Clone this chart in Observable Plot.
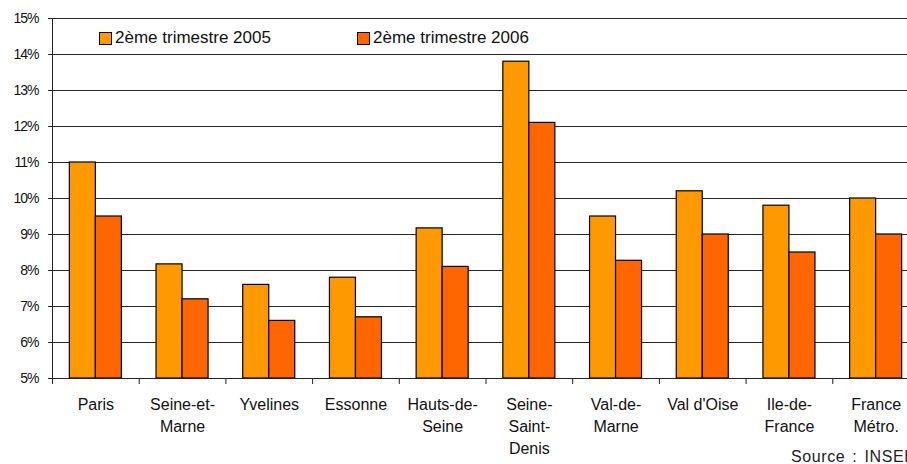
<!DOCTYPE html>
<html>
<head>
<meta charset="utf-8">
<script src="https://cdn.jsdelivr.net/npm/d3@7"></script>
<script src="https://cdn.jsdelivr.net/npm/@observablehq/plot@0.6"></script>
<style>
  html, body { margin: 0; padding: 0; background: #fff; overflow: hidden; }
  #wrap { position: relative; width: 907px; height: 464px; overflow: hidden; font-family: Arial, "Liberation Sans", sans-serif; }
  #chart svg { max-width: none !important; display: block; }
  #legend { position: absolute; top: 28px; left: 0; height: 20px; width: 907px; font-size: 17px; color: #111; }
  .item { position: absolute; display: flex; align-items: center; white-space: nowrap; }
  .sw { width: 11px; height: 11px; border: 1px solid #000; margin-right: 3px; }
  #source { position: absolute; left: 791px; top: 448px; font-size: 16px; color: #222; letter-spacing: 0.6px; word-spacing: 2px; white-space: nowrap; }
  g[aria-label="y-axis tick label"] text { letter-spacing: -1px; }
</style>
</head>
<body>
<div id="wrap">
  <div id="chart"></div>
  <div id="legend"></div>
  <div id="source"></div>
</div>
<script>
const categories = ["Paris", "Seine-et-Marne", "Yvelines", "Essonne", "Hauts-de-Seine", "Seine-Saint-Denis", "Val-de-Marne", "Val d'Oise", "Ile-de-France", "France Métro."];
const tickLabels = ["Paris", "Seine-et-\nMarne", "Yvelines", "Essonne", "Hauts-de-\nSeine", "Seine-\nSaint-\nDenis", "Val-de-\nMarne", "Val d'Oise", "Ile-de-\nFrance", "France\nMétro."];
const seriesNames = ["2ème trimestre 2005", "2ème trimestre 2006"];
const values2005 = [11.0, 8.17, 7.6, 7.8, 9.17, 13.8, 9.5, 10.2, 9.8, 10.0];
const values2006 = [9.5, 7.2, 6.6, 6.7, 8.1, 12.1, 8.27, 9.0, 8.5, 9.0];
const yTicks = [5, 6, 7, 8, 9, 10, 11, 12, 13, 14, 15];
const colors = ["#FF9900", "#FF6600"];
const sourceText = "Source : INSEE";

const rows2005 = categories.map((c, i) => ({category: c, value: values2005[i]}));
const rows2006 = categories.map((c, i) => ({category: c, value: values2006[i]}));
const labelOf = new Map(categories.map((c, i) => [c, tickLabels[i]]));

const width = 919, marginLeft = 52, marginRight = 0;
const bw = (width - marginLeft - marginRight) / categories.length;
const base = yTicks[0];

const chart = Plot.plot({
  width,
  height: 464,
  marginLeft,
  marginRight,
  marginTop: 18,
  marginBottom: 86,
  style: {fontFamily: "Arial, 'Liberation Sans', sans-serif", color: "#111", background: "#fff", maxWidth: "none"},
  x: {domain: categories, padding: 0, round: false, axis: null, label: null},
  y: {domain: [yTicks[0], yTicks[yTicks.length - 1]], axis: null, label: null},
  marks: [
    Plot.gridY(yTicks, {stroke: "#000", strokeOpacity: 0.85, strokeWidth: 1}),
    Plot.barY(rows2005, {x: "category", y1: base, y2: "value", fill: colors[0], stroke: "#000", strokeWidth: 1.2, insetLeft: bw * 0.2, insetRight: bw * 0.5}),
    Plot.barY(rows2006, {x: "category", y1: base, y2: "value", fill: colors[1], stroke: "#000", strokeWidth: 1.2, insetLeft: bw * 0.5, insetRight: bw * 0.2}),
    Plot.frame({anchor: "left", stroke: "#222"}),
    Plot.frame({anchor: "bottom", stroke: "#222"}),
    Plot.axisY({ticks: yTicks, tickSize: 4, tickPadding: 10, fontSize: 14, label: null, tickFormat: d => d + "%", stroke: "#222"}),
    Plot.axisX({tickSize: 6, dx: -bw / 2, label: null, tickFormat: () => "", stroke: "#222"}),
    Plot.axisX({tickSize: 0, tickPadding: 16, fontSize: 16, lineHeight: 1.375, label: null, tickFormat: d => labelOf.get(d)})
  ]
});
document.getElementById("chart").appendChild(chart);

const legend = document.getElementById("legend");
const legendLefts = [99, 357];
seriesNames.forEach((name, i) => {
  const it = document.createElement("div");
  it.className = "item";
  it.style.left = legendLefts[i] + "px";
  const sw = document.createElement("div");
  sw.className = "sw";
  sw.style.background = colors[i];
  const tx = document.createElement("span");
  tx.textContent = name;
  it.appendChild(sw);
  it.appendChild(tx);
  legend.appendChild(it);
});
document.getElementById("source").textContent = sourceText;
</script>
</body>
</html>
